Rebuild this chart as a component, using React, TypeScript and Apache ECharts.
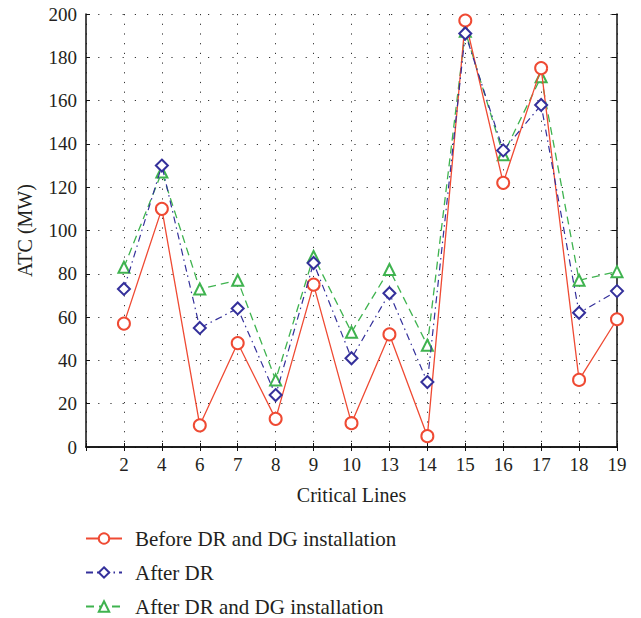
import React, { useEffect, useRef } from "react";
import * as echarts from "echarts";

const categories = ["2", "4", "6", "7", "8", "9", "10", "13", "14", "15", "16", "17", "18", "19"];
const beforeDRDG = [57, 110, 10, 48, 13, 75, 11, 52, 5, 197, 122, 175, 31, 59];
const afterDR = [73, 130, 55, 64, 24, 85, 41, 71, 30, 191, 137, 158, 62, 72];
const afterDRDG = [83, 127, 73, 77, 31, 88, 53, 82, 47, 192, 135, 171, 77, 81];
const seriesNames = ["Before DR and DG installation", "After DR", "After DR and DG installation"];

const FONT = "Liberation Serif";
const TXT = "#231f20";

export default function App() {
  const ref = useRef<HTMLDivElement>(null);
  useEffect(() => {
    const chart = echarts.init(ref.current!, undefined, { renderer: "svg" });
    const axisData = ["", ...categories];
    const pad = (arr: number[]) => [null, ...arr];
    const grid = "#333";
    const legendTops = [528, 562, 596];
    chart.setOption({
      animation: false,
      textStyle: { fontFamily: FONT },
      grid: { left: 86, right: 24, top: 14, bottom: 171 },
      legend: seriesNames.map((n, i) => ({
        orient: "vertical",
        left: 85,
        top: legendTops[i],
        padding: 0,
        itemWidth: 36,
        itemHeight: 13,
        textStyle: { fontFamily: FONT, fontSize: 21, color: TXT, padding: [0, 0, 0, 8] },
        data: [n],
      })),
      xAxis: [
        {
          type: "category",
          data: axisData,
          boundaryGap: false,
          name: "Critical Lines",
          nameLocation: "middle",
          nameGap: 38,
          nameTextStyle: { fontFamily: FONT, fontSize: 20, color: TXT },
          axisLine: { lineStyle: { color: "#111", width: 1.5 } },
          axisTick: { inside: true, length: 4, alignWithLabel: true, lineStyle: { color: "#111" } },
          axisLabel: { interval: 0, fontFamily: FONT, fontSize: 19, color: TXT, margin: 8 },
          splitLine: { show: true, lineStyle: { color: grid, type: [1.2, 8.5], width: 1 } },
        },
        {
          type: "category",
          data: axisData,
          boundaryGap: false,
          position: "top",
          axisLine: { lineStyle: { color: "#111", width: 1.5 } },
          axisTick: { inside: true, length: 4, lineStyle: { color: "#111" } },
          axisLabel: { show: false },
          splitLine: { show: false },
        },
      ],
      yAxis: [
        {
          type: "value",
          min: 0,
          max: 200,
          interval: 20,
          name: "ATC (MW)",
          nameLocation: "middle",
          nameGap: 51,
          nameTextStyle: { fontFamily: FONT, fontSize: 20, color: TXT },
          axisLine: { show: true, lineStyle: { color: "#111", width: 1.5 } },
          axisTick: { show: true, inside: true, length: 4, lineStyle: { color: "#111" } },
          axisLabel: { fontFamily: FONT, fontSize: 19, color: TXT, margin: 9 },
          splitLine: { show: true, lineStyle: { color: grid, type: [1.2, 11], width: 1 } },
        },
        {
          type: "value",
          min: 0,
          max: 200,
          interval: 20,
          position: "right",
          axisLine: { show: true, lineStyle: { color: "#111", width: 1.5 } },
          axisTick: { show: true, inside: true, length: 5, lineStyle: { color: "#111" } },
          axisLabel: { show: false },
          splitLine: { show: false },
        },
      ],
      series: [
        {
          name: seriesNames[0],
          type: "line",
          data: pad(beforeDRDG),
          symbol: "emptyCircle",
          symbolSize: 12,
          itemStyle: { color: "#ef4a33", borderWidth: 1.2 },
          lineStyle: { color: "#ef4a33", width: 1.3, type: "solid" },
          z: 3,
        },
        {
          name: seriesNames[1],
          type: "line",
          data: pad(afterDR),
          symbol: "emptyDiamond",
          symbolSize: 12,
          itemStyle: { color: "#34309b", borderWidth: 1.2 },
          lineStyle: { color: "#34309b", width: 1.2, type: [7, 4, 1.5, 4] },
          z: 4,
        },
        {
          name: seriesNames[2],
          type: "line",
          data: pad(afterDRDG),
          symbol: "emptyTriangle",
          symbolSize: 11,
          itemStyle: { color: "#3fb34f", borderWidth: 1.2 },
          lineStyle: { color: "#3fb34f", width: 1.3, type: [8, 5] },
          z: 2,
        },
      ],
    });
    return () => chart.dispose();
  }, []);
  return <div ref={ref} style={{ width: 641, height: 618, position: "absolute", left: 0, top: 0, background: "#fff" }} />;
}
